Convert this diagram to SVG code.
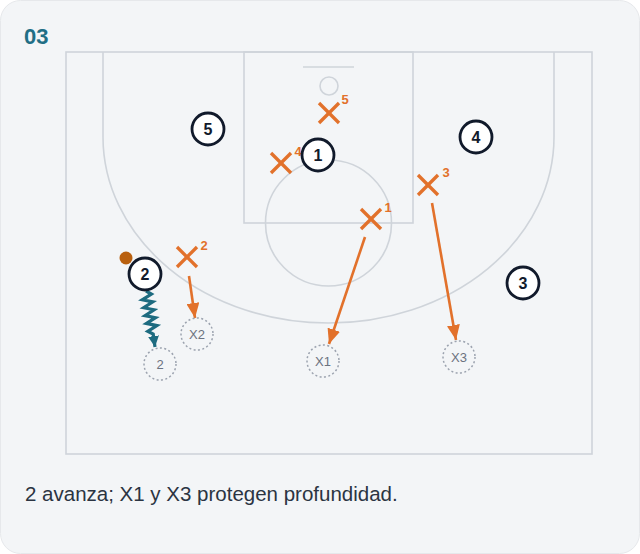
<svg xmlns="http://www.w3.org/2000/svg" width="640" height="554" viewBox="0 0 640 554">
<defs>
<style>
.court{fill:none;stroke:#cfd4da;stroke-width:1.6}
.pl circle{fill:#ffffff;stroke:#111a2b;stroke-width:2.8}
.pl text{font-family:"Liberation Sans",Arial,sans-serif;font-weight:bold;font-size:16px;fill:#111a2b;text-anchor:middle}
.df line{stroke:#e2712b;stroke-width:3.3}
.df text{font-family:"Liberation Sans",Arial,sans-serif;font-weight:bold;font-size:13px;fill:#e2712b;text-anchor:middle}
.gh circle{fill:none;stroke:#9ca3af;stroke-width:1.5;stroke-dasharray:2 2.4}
.gh text{font-family:"Liberation Sans",Arial,sans-serif;font-size:13px;fill:#6b7280;text-anchor:middle}
.mv{stroke:#e2712b;stroke-width:2.6;fill:none}
.dr{stroke:#1d6b80;stroke-width:3.2;fill:none;stroke-linejoin:miter}
</style>
<marker id="ah" markerUnits="userSpaceOnUse" markerWidth="15" markerHeight="13" refX="15" refY="6.5" orient="auto">
<path d="M0,0 L15,6.5 L0,13 z" fill="#e2712b"/>
</marker>
<marker id="ahd" markerUnits="userSpaceOnUse" markerWidth="11" markerHeight="11" refX="11" refY="5.5" orient="auto">
<path d="M0,0 L11,5.5 L0,11 z" fill="#1d6b80"/>
</marker>
</defs>
<rect x="0.5" y="0.5" width="639" height="553" rx="20" fill="#f3f5f7" stroke="#e6e8eb"/>
<text x="24" y="44" font-family="Liberation Sans,Arial,sans-serif" font-weight="bold" font-size="22" fill="#216e85">03</text>
<g id="court">
<rect class="court" x="66" y="52" width="526" height="402"/>
<rect class="court" x="244" y="52" width="169" height="171"/>
<circle class="court" cx="328.5" cy="223" r="63"/>
<line class="court" x1="303" y1="67" x2="354" y2="67"/>
<circle class="court" cx="329" cy="86" r="9"/>
<path class="court" d="M103 52 L103 137 A225.5 186 0 0 0 554 137 L554 52"/>
</g>
<g id="connectors">
<line class="mv" x1="189" y1="276" x2="195" y2="318" marker-end="url(#ah)"/>
<line class="mv" x1="365" y1="237" x2="329" y2="344" marker-end="url(#ah)"/>
<line class="mv" x1="432" y1="203" x2="456" y2="340" marker-end="url(#ah)"/>
<polyline class="dr" points="146,291 151.4,294.1 142.3,299.8 152.8,301.9 143.7,307.7 154.1,309.8 145,315.6 155.5,317.7 146.4,323.4 156.9,325.6 147.8,331.3 153.2,334 155,347" marker-end="url(#ahd)"/>
</g>
<g id="ghost-2" class="gh"><circle cx="160" cy="364" r="16"/><text x="160" y="368.5">2</text></g>
<g id="ghost-X2" class="gh"><circle cx="197" cy="334" r="16"/><text x="197" y="338.5">X2</text></g>
<g id="ghost-X1" class="gh"><circle cx="323" cy="361" r="16"/><text x="323" y="365.5">X1</text></g>
<g id="ghost-X3" class="gh"><circle cx="459" cy="357" r="16"/><text x="459" y="361.5">X3</text></g>
<g id="def-5" class="df"><line x1="319" y1="103" x2="339" y2="123"/><line x1="339" y1="103" x2="319" y2="123"/><text x="345" y="104">5</text></g>
<g id="def-4" class="df"><line x1="271" y1="153" x2="291" y2="173"/><line x1="291" y1="153" x2="271" y2="173"/><text x="298" y="156">4</text></g>
<g id="def-1" class="df"><line x1="361" y1="209" x2="381" y2="229"/><line x1="381" y1="209" x2="361" y2="229"/><text x="388" y="212">1</text></g>
<g id="def-3" class="df"><line x1="418" y1="175" x2="438" y2="195"/><line x1="438" y1="175" x2="418" y2="195"/><text x="446" y="177">3</text></g>
<g id="def-2" class="df"><line x1="177" y1="247" x2="197" y2="267"/><line x1="197" y1="247" x2="177" y2="267"/><text x="204" y="250">2</text></g>
<g id="player-5" class="pl"><circle cx="208" cy="129" r="16"/><text x="208" y="134.5">5</text></g>
<g id="player-1" class="pl"><circle cx="318" cy="155" r="16"/><text x="318" y="160.5">1</text></g>
<g id="player-4" class="pl"><circle cx="476" cy="137" r="16"/><text x="476" y="142.5">4</text></g>
<g id="player-3" class="pl"><circle cx="523" cy="283" r="16"/><text x="523" y="288.5">3</text></g>
<g id="player-2" class="pl"><circle cx="145" cy="274" r="16"/><text x="145" y="279.5">2</text></g>
<g id="ball"><circle cx="126" cy="258" r="6.5" fill="#b9600f"/></g>
<text x="25" y="501" font-family="Liberation Sans,Arial,sans-serif" font-size="20.5" fill="#2b3442">2 avanza; X1 y X3 protegen profundidad.</text>
</svg>
